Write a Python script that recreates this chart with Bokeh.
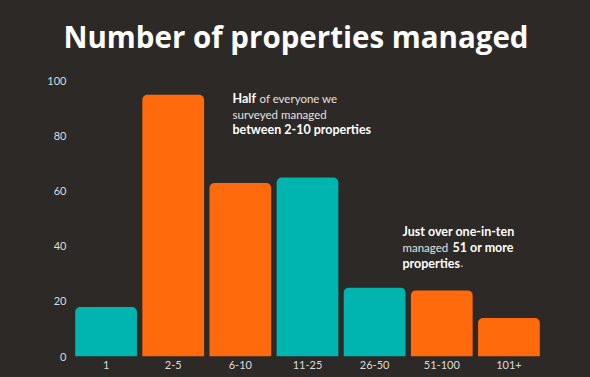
from bokeh.plotting import figure
from bokeh.models import FactorRange, Range1d, Label, ColumnDataSource, Title
from bokeh.embed import file_html
from bokeh.resources import INLINE

categories = ["1", "2-5", "6-10", "11-25", "26-50", "51-100", "101+"]
values = [18, 95, 63, 65, 25, 24, 14]
palette = ["#00b4b0", "#ff6a0d", "#ff6a0d", "#00b4b0", "#00b4b0", "#ff6a0d", "#ff6a0d"]
y_ticks = [0, 20, 40, 60, 80, 100]
title_text = "Number of properties managed"

BG = "#2d2927"
FONT = "Lato"

src = ColumnDataSource(dict(cat=categories, val=values, col=palette))

p = figure(width=590, height=377, output_backend="svg", toolbar_location=None,
           x_range=FactorRange(*categories, range_padding=0),
           y_range=Range1d(0, 102),
           min_border_left=72, min_border_right=48, min_border_top=75, min_border_bottom=21,
           background_fill_color=BG, border_fill_color=BG)
p.outline_line_color = None

p.title.text = title_text
p.title.align = "left"
p.title.offset = -9
p.title.text_font = "Open Sans"
p.title.text_font_size = "29.5px"
p.title.text_font_style = "bold"
p.title.text_color = "#ffffff"

# spacer between title and plot frame
p.add_layout(Title(text=" ", text_font_size="11px", text_color=BG, standoff=0), "above")

p.vbar(x="cat", top="val", width=0.92, source=src, fill_color="col", line_color=None,
       border_radius=(5, 5, 0, 0))

p.grid.visible = False
for ax in (p.xaxis, p.yaxis):
    ax.axis_line_color = None
    ax.major_tick_line_color = None
    ax.minor_tick_line_color = None
    ax.major_tick_out = 0
    ax.major_tick_in = 0
    ax.minor_tick_out = 0
    ax.major_label_text_font = FONT
    ax.major_label_text_font_size = "11px"
    ax.major_label_text_color = "#dcdcdc"
p.yaxis.ticker = y_ticks
p.yaxis.major_label_standoff = 6
p.xaxis.major_label_standoff = 4

def lab(x, y, t, bold=False):
    p.add_layout(Label(x=x, y=y, x_units="screen", y_units="data", text=t,
                       text_font=FONT, text_font_size="12.5px" if bold else "11.5px",
                       text_font_style="bold" if bold else "normal",
                       text_color="#ffffff" if bold else "#e2e2e2",
                       text_baseline="middle", text_align="left"))

# annotation 1 (x offsets relative to frame left)
lab(160, 93.8, "Half", True)
lab(187, 93.8, "of everyone we")
lab(160, 88.0, "surveyed managed")
lab(160, 82.5, "between 2-10 properties", True)
# annotation 2
lab(330, 45.5, "Just over one-in-ten", True)
lab(330, 39.6, "managed")
lab(380, 39.6, "51 or more", True)
lab(330, 33.8, "properties", True)
lab(388, 33.8, ".")

html = file_html(p, INLINE)
html = html.replace("<head>", "<head><style>html,body{background:%s;margin:0;}</style>" % BG, 1)
open("out.html", "w").write(html)
